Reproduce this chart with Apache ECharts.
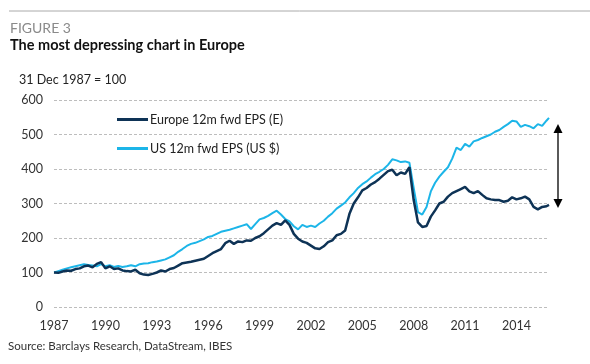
<!DOCTYPE html>
<html>
<head>
<meta charset="utf-8">
<script src="https://cdn.jsdelivr.net/npm/echarts@6/dist/echarts.min.js"></script>
<style>html,body{margin:0;padding:0;background:#fff;}#c{width:590px;height:364px;}</style>
</head>
<body>
<div id="c"></div>
<script>
const dates = [1987.00,1987.25,1987.50,1987.75,1988.00,1988.25,1988.50,1988.75,1989.00,1989.25,1989.50,1989.75,
1990.00,1990.25,1990.50,1990.75,1991.00,1991.25,1991.50,1991.75,1992.00,1992.25,1992.50,1992.75,
1993.00,1993.25,1993.50,1993.75,1994.00,1994.25,1994.50,1994.75,1995.00,1995.25,1995.50,1995.75,
1996.00,1996.25,1996.50,1996.75,1997.00,1997.25,1997.50,1997.75,1998.00,1998.25,1998.50,1998.75,
1999.00,1999.25,1999.50,1999.75,2000.00,2000.25,2000.50,2000.75,2001.00,2001.25,2001.50,2001.75,
2002.00,2002.25,2002.50,2002.75,2003.00,2003.25,2003.50,2003.75,2004.00,2004.25,2004.50,2004.75,
2005.00,2005.25,2005.50,2005.75,2006.00,2006.25,2006.50,2006.75,2007.00,2007.25,2007.50,2007.75,
2008.00,2008.25,2008.50,2008.75,2009.00,2009.25,2009.50,2009.75,2010.00,2010.25,2010.50,2010.75,
2011.00,2011.25,2011.50,2011.75,2012.00,2012.25,2012.50,2012.75,2013.00,2013.25,2013.50,2013.75,
2014.00,2014.25,2014.50,2014.75,2015.00,2015.25,2015.50,2015.75,2015.90];

const usEPS = [100,104,108,112,115,118,121,124,122,120,118,124,
118,121,116,119,116,118,121,118,124,126,127,130,
132,135,138,144,150,160,168,177,183,186,191,196,
203,206,212,218,221,224,228,232,236,240,226,240,
254,258,264,272,279,268,255,248,234,225,238,232,
236,232,242,250,262,272,285,294,303,318,330,345,
356,364,375,385,392,400,412,428,425,420,422,418,
345,275,268,290,335,360,378,392,405,430,462,455,
473,465,480,484,490,495,500,508,513,522,530,540,
538,522,528,524,518,530,525,540,548];

const europeEPS = [100,99,103,106,105,110,112,118,120,115,125,130,
112,118,110,112,106,104,103,108,98,94,93,96,
100,106,103,110,113,120,127,129,131,134,137,140,
148,156,162,168,185,192,183,190,188,193,192,200,
205,214,225,236,243,238,251,238,212,198,190,186,
178,170,168,176,188,193,208,212,222,270,300,318,
338,345,355,362,372,383,394,398,382,390,386,405,
310,245,232,235,262,280,300,305,320,330,336,342,
348,335,330,336,325,315,312,310,310,305,308,318,
312,315,320,312,290,283,290,292,296];

const yearTicks = [1987,1990,1993,1996,1999,2002,2005,2008,2011,2014];
const seriesNames = ['Europe 12m fwd EPS (E)','US 12m fwd EPS (US $)'];

const FONT = 'Lato, "Open Sans", sans-serif';
const chart = echarts.init(document.getElementById('c'), null, {renderer:'canvas'});
const pair = (arr) => dates.map((d,i)=>[d, arr[i]]);

chart.setOption({
  animation:false,
  backgroundColor:'#fff',
  textStyle:{fontFamily:FONT},
  grid:{left:54, right:41, top:100, bottom:57, containLabel:false},
  xAxis:{
    type:'value', min:1987, max:2015.9, interval:3,
    axisLine:{show:false}, axisTick:{show:false}, splitLine:{show:false},
    axisLabel:{color:'#333', fontSize:12.5, fontFamily:FONT, margin:12,
      formatter:(v)=> yearTicks.indexOf(v)>=0 ? String(v) : '', showMaxLabel:false}
  },
  yAxis:{
    type:'value', min:0, max:600, interval:100,
    axisLine:{show:false}, axisTick:{show:false},
    axisLabel:{color:'#333', fontSize:12.5, fontFamily:FONT, margin:11},
    splitLine:{show:true, lineStyle:{color:'#bdbdbd', type:[3,2], width:1}}
  },
  legend:{
    left:112, top:108, orient:'vertical', itemGap:16, itemWidth:31, itemHeight:3,
    icon:'rect', textStyle:{color:'#222', fontSize:12.5, fontFamily:FONT, padding:[0,0,0,-3]},
    data:seriesNames
  },
  series:[
    {name:seriesNames[0], type:'line', data:pair(europeEPS), showSymbol:false, symbol:'none',
     lineStyle:{color:'#0e3356', width:2.5}, itemStyle:{color:'#0e3356'}, z:3},
    {name:seriesNames[1], type:'line', data:pair(usEPS), showSymbol:false, symbol:'none',
     lineStyle:{color:'#1cb5e8', width:2}, itemStyle:{color:'#1cb5e8'}, z:2}
  ],
  graphic:[
    {type:'line', shape:{x1:9,y1:11,x2:590,y2:11}, style:{stroke:'#aaa', lineWidth:1}},
    {type:'text', left:10, top:21, style:{text:'FIGURE 3', fill:'#8a8a8a', font:'14px '+FONT}},
    {type:'text', left:10, top:38, style:{text:'The most depressing chart in Europe', fill:'#111', font:'bold 14.5px '+FONT}},
    {type:'text', left:19, top:73, style:{text:'31 Dec 1987 = 100', fill:'#222', font:'12.5px '+FONT}},
    {type:'text', left:8, top:340, style:{text:'Source: Barclays Research, DataStream, IBES', fill:'#333', font:'11.5px '+FONT}},
    {type:'line', shape:{x1:558,y1:130,x2:558,y2:202}, style:{stroke:'#000', lineWidth:1.3}},
    {type:'polygon', shape:{points:[[558,124],[553.5,133],[562.5,133]]}, style:{fill:'#000'}},
    {type:'polygon', shape:{points:[[558,208],[553.5,199],[562.5,199]]}, style:{fill:'#000'}}
  ]
});
</script>
</body>
</html>
